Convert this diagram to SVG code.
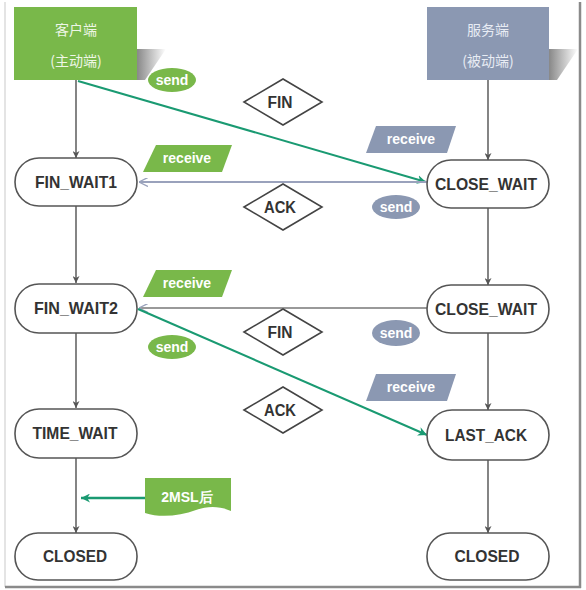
<svg xmlns="http://www.w3.org/2000/svg" width="586" height="590" viewBox="0 0 586 590">
<style>
.state rect{fill:#fff;stroke:#555;stroke-width:1.6}
.state text{font-family:"Liberation Sans",Arial,sans-serif;font-weight:bold;font-size:17px;fill:#333;text-anchor:middle}
.dia polygon{fill:#fff;stroke:#444;stroke-width:1.6}
.dia text{font-family:"Liberation Sans",Arial,sans-serif;font-weight:bold;font-size:16px;fill:#333;text-anchor:middle}
.lbl text{font-family:"Liberation Sans",Arial,sans-serif;font-weight:bold;font-size:14px;fill:#fff;text-anchor:middle}
.g{fill:#79b84a}
.b{fill:#8b98b2}
.head text{font-family:"Noto Sans CJK SC",sans-serif;font-size:14px;text-anchor:middle}
.v{stroke:#666;stroke-width:1.6;fill:none;marker-end:url(#ah)}
</style>
<defs>
<marker id="ah" viewBox="0 0 10 10" refX="10" refY="5" markerWidth="7" markerHeight="7" orient="auto" markerUnits="userSpaceOnUse">
<path d="M0,0 L10,5 L0,10 L3,5 z" fill="#555"/>
</marker>
<marker id="ahg" viewBox="0 0 10 10" refX="10" refY="5" markerWidth="9" markerHeight="9" orient="auto" markerUnits="userSpaceOnUse">
<path d="M0,0 L10,5 L0,10 L3,5 z" fill="#1a9a72"/>
</marker>
<marker id="ahl" viewBox="0 0 10 10" refX="10" refY="5" markerWidth="9" markerHeight="9" orient="auto" markerUnits="userSpaceOnUse">
<path d="M0,0 L10,5 L0,10" fill="none" stroke="#9aa2bc" stroke-width="1.5"/>
</marker>
<linearGradient id="sh" x1="0" y1="0" x2="1" y2="0">
<stop offset="0" stop-color="#888"/>
<stop offset="1" stop-color="#888" stop-opacity="0"/>
</linearGradient>
</defs>
<rect x="0" y="0" width="586" height="590" fill="#fff"/>
<line x1="5" y1="2" x2="5" y2="587" stroke="#e4e4e4" stroke-width="2"/>
<line x1="580" y1="2" x2="580" y2="588" stroke="#8a8a8a" stroke-width="2.5"/>
<line x1="5" y1="587" x2="581" y2="587" stroke="#8a8a8a" stroke-width="2.5"/>

<g id="connectors">
<line class="v" x1="76" y1="80" x2="76" y2="158"/>
<line class="v" x1="76" y1="206" x2="76" y2="283"/>
<line class="v" x1="76" y1="333" x2="76" y2="408"/>
<line class="v" x1="76" y1="458" x2="76" y2="533"/>
<line class="v" x1="488" y1="80" x2="488" y2="160"/>
<line class="v" x1="488" y1="208" x2="488" y2="285"/>
<line class="v" x1="488" y1="333" x2="488" y2="410"/>
<line class="v" x1="488" y1="460" x2="488" y2="533"/>
<line x1="78" y1="81" x2="426" y2="182" stroke="#1a9a72" stroke-width="2" marker-end="url(#ahg)"/>
<line x1="427" y1="182" x2="139" y2="182" stroke="#9aa2bc" stroke-width="2" marker-end="url(#ahl)"/>
<line x1="427" y1="308" x2="139" y2="308" stroke="#999" stroke-width="2" marker-end="url(#ahl)"/>
<line x1="138" y1="309" x2="427" y2="435" stroke="#1a9a72" stroke-width="2" marker-end="url(#ahg)"/>
<line x1="145" y1="498" x2="81" y2="498" stroke="#1a9a72" stroke-width="2.5" marker-end="url(#ahg)"/>
</g>

<g id="client" class="head">
<polygon points="137,49 166,49 145,80 137,80" fill="url(#sh)"/>
<rect x="14" y="7" width="123" height="73" fill="#79b84a"/>
<text x="76" y="35" fill="#eef6e6">客户端</text>
<text x="76" y="66" fill="#eef6e6">(主动端)</text>
</g>
<g id="server" class="head">
<polygon points="549,49 578,49 557,80 549,80" fill="url(#sh)"/>
<rect x="427" y="7" width="122" height="73" fill="#8b98b2"/>
<text x="488" y="35" fill="#e8ecf4">服务端</text>
<text x="488" y="66" fill="#e8ecf4">(被动端)</text>
</g>

<g id="fin_wait1" class="state"><rect x="15" y="158" width="122" height="48" rx="24"/><text x="76" y="188" textLength="82" lengthAdjust="spacingAndGlyphs">FIN_WAIT1</text></g>
<g id="fin_wait2" class="state"><rect x="15" y="284" width="122" height="49" rx="24"/><text x="76" y="314" textLength="84" lengthAdjust="spacingAndGlyphs">FIN_WAIT2</text></g>
<g id="time_wait" class="state"><rect x="15" y="409" width="122" height="49" rx="24"/><text x="75" y="439" textLength="85" lengthAdjust="spacingAndGlyphs">TIME_WAIT</text></g>
<g id="closed_c" class="state"><rect x="15" y="533" width="122" height="47" rx="23"/><text x="75" y="562" textLength="64" lengthAdjust="spacingAndGlyphs">CLOSED</text></g>
<g id="close_wait1" class="state"><rect x="427" y="160" width="122" height="48" rx="24"/><text x="486" y="190" textLength="102" lengthAdjust="spacingAndGlyphs">CLOSE_WAIT</text></g>
<g id="close_wait2" class="state"><rect x="427" y="285" width="122" height="48" rx="24"/><text x="486" y="315" textLength="102" lengthAdjust="spacingAndGlyphs">CLOSE_WAIT</text></g>
<g id="last_ack" class="state"><rect x="427" y="410" width="122" height="50" rx="25"/><text x="486" y="441" textLength="82" lengthAdjust="spacingAndGlyphs">LAST_ACK</text></g>
<g id="closed_s" class="state"><rect x="427" y="533" width="122" height="47" rx="23"/><text x="487" y="562" textLength="65" lengthAdjust="spacingAndGlyphs">CLOSED</text></g>

<g id="fin1" class="dia"><polygon points="244,102 283,79 322,102 283,125"/><text x="280" y="108" textLength="25" lengthAdjust="spacingAndGlyphs">FIN</text></g>
<g id="ack1" class="dia"><polygon points="244,207 283,184 322,207 283,230"/><text x="280" y="213" textLength="32" lengthAdjust="spacingAndGlyphs">ACK</text></g>
<g id="fin2" class="dia"><polygon points="244,332 283,309 322,332 283,355"/><text x="280" y="338" textLength="25" lengthAdjust="spacingAndGlyphs">FIN</text></g>
<g id="ack2" class="dia"><polygon points="244,410 283,387 322,410 283,433"/><text x="280" y="416" textLength="32" lengthAdjust="spacingAndGlyphs">ACK</text></g>

<g id="send_c1" class="lbl"><ellipse class="g" cx="172" cy="80" rx="24" ry="12"/><text x="172" y="85">send</text></g>
<g id="recv_c1" class="lbl"><polygon class="g" points="156,145 232,145 222,172 143,172"/><text x="187" y="163">receive</text></g>
<g id="recv_c2" class="lbl"><polygon class="g" points="156,270 232,270 222,297 143,297"/><text x="187" y="288">receive</text></g>
<g id="send_c2" class="lbl"><ellipse class="g" cx="172" cy="347" rx="24" ry="12"/><text x="172" y="352">send</text></g>
<g id="recv_s1" class="lbl"><polygon class="b" points="376,126 456,126 447,153 366,153"/><text x="411" y="144">receive</text></g>
<g id="send_s1" class="lbl"><ellipse class="b" cx="396" cy="207" rx="24" ry="12"/><text x="396" y="212">send</text></g>
<g id="send_s2" class="lbl"><ellipse class="b" cx="396" cy="333" rx="24" ry="13"/><text x="396" y="338">send</text></g>
<g id="recv_s2" class="lbl"><polygon class="b" points="376,374 456,374 447,401 366,401"/><text x="411" y="392">receive</text></g>

<g id="msl" class="lbl">
<path class="g" d="M145,478 H231 V511 C219,506 208,506 196,510 C180,516 160,518 145,513 Z"/>
<text x="187" y="502" font-family="'Liberation Sans','Noto Sans CJK SC',sans-serif">2MSL后</text>
</g>
</svg>
